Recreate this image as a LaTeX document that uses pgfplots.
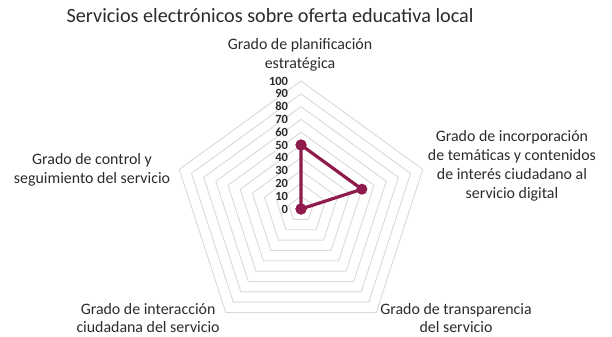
\documentclass[border=0pt]{standalone}
\usepackage{pgfplots}
\pgfplotsset{compat=1.18}
\usepackage{fontspec}
\setmainfont{Carlito}
\newfontfamily\semib{Carlito}
\definecolor{serie}{HTML}{8E1B4B}
\definecolor{gridc}{HTML}{D9D9D9}
\definecolor{txt}{HTML}{2B2B2B}
\begin{document}
\begin{tikzpicture}
\begin{axis}[
  scale only axis, width=612bp, height=336bp,
  xmin=-235.2, xmax=242.97, ymin=-99.22, ymax=163.28,
  hide axis, clip=false,
]
\path (rel axis cs:0,0) rectangle (rel axis cs:1,1);
% grid pentagons
\pgfplotsinvokeforeach{10,20,30,40,50,60,70,80,90,100}{
  \addplot[gridc, line width=0.9bp, data cs=polar, forget plot] coordinates {(90,#1) (18,#1) (-54,#1) (-126,#1) (-198,#1) (90,#1)};
}
% data
\addplot[serie, line width=3.2bp, mark=*, mark size=3.8bp, mark options={fill=serie, draw=serie}, data cs=polar] coordinates {
  (90,50) (18,50) (-54,0) (-126,0) (-198,0) (90,50)};
% tick labels
\pgfplotsinvokeforeach{0,10,20,30,40,50,60,70,80,90,100}{
  \node[anchor=east, inner sep=0pt, font=\fontsize{12.5bp}{13bp}\selectfont\bfseries, text=txt] at (axis cs:-10,#1) {#1};
}
\node[font=\semib\fontsize{20.2bp}{22bp}\selectfont, text=txt] at (axis cs:-24.2,150.8) {Servicios electrónicos sobre oferta educativa local};
\node[align=center, font=\semib\fontsize{15.9bp}{18.8bp}\selectfont, text=txt] at (axis cs:-0.8,120.3) {Grado de planificación\\estratégica};
\node[align=center, font=\semib\fontsize{15.9bp}{18.8bp}\selectfont, text=txt] at (axis cs:164.8,33.6) {Grado de incorporación\\de temáticas y contenidos\\de interés ciudadano al\\servicio digital};
\node[align=center, font=\semib\fontsize{15.9bp}{18.8bp}\selectfont, text=txt] at (axis cs:-163.3,30.5) {Grado de control y\\seguimiento del servicio};
\node[align=center, font=\semib\fontsize{15.9bp}{18.8bp}\selectfont, text=txt] at (axis cs:-119.5,-85.2) {Grado de interacción\\ciudadana del servicio};
\node[align=center, font=\semib\fontsize{15.9bp}{18.8bp}\selectfont, text=txt] at (axis cs:121.1,-85.2) {Grado de transparencia\\del servicio};
\end{axis}
\end{tikzpicture}
\end{document}
